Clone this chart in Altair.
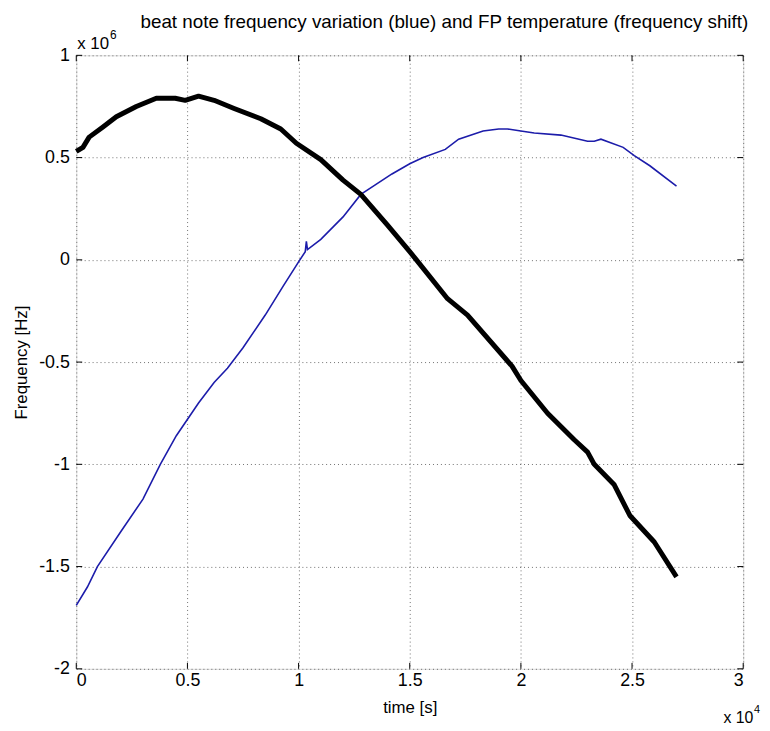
import altair as alt
import pandas as pd

# Blue: beat note frequency variation (time in 1e4 s, frequency in 1e6 Hz)
blue_t = [0.0, 0.05, 0.095, 0.2, 0.3, 0.378, 0.45, 0.55, 0.62, 0.68, 0.75, 0.85, 0.93, 1.0,
          1.03, 1.035, 1.04, 1.1, 1.2, 1.28, 1.35, 1.42, 1.5, 1.56, 1.66, 1.72, 1.83, 1.9,
          1.94, 2.0, 2.06, 2.18, 2.3, 2.33, 2.36, 2.46, 2.51, 2.58, 2.7]
blue_v = [-1.69, -1.60, -1.50, -1.33, -1.17, -1.00, -0.86, -0.70, -0.60, -0.53, -0.43, -0.27,
          -0.13, -0.01, 0.04, 0.09, 0.05, 0.10, 0.21, 0.32, 0.37, 0.42, 0.47, 0.50, 0.54,
          0.59, 0.63, 0.64, 0.64, 0.63, 0.62, 0.61, 0.58, 0.58, 0.59, 0.55, 0.51, 0.46, 0.36]

# Black: FP temperature (frequency shift)
black_t = [0.0, 0.03, 0.058, 0.12, 0.18, 0.27, 0.36, 0.445, 0.49, 0.55, 0.62, 0.71, 0.83,
           0.92, 0.99, 1.1, 1.2, 1.28, 1.4, 1.5, 1.53, 1.67, 1.76, 1.96, 2.0, 2.12, 2.24,
           2.30, 2.33, 2.42, 2.49, 2.6, 2.7]
black_v = [0.53, 0.55, 0.60, 0.65, 0.70, 0.75, 0.79, 0.79, 0.78, 0.80, 0.78, 0.74, 0.69,
           0.64, 0.57, 0.49, 0.39, 0.32, 0.17, 0.04, 0.0, -0.19, -0.27, -0.52, -0.59, -0.75,
           -0.88, -0.94, -1.0, -1.1, -1.25, -1.38, -1.55]

x_ticks = [0, 0.5, 1, 1.5, 2, 2.5, 3]
y_ticks = [1, 0.5, 0, -0.5, -1, -1.5, -2]

T_SCALE = 1e4
F_SCALE = 1e6

TITLE = "beat note frequency variation (blue) and FP temperature (frequency shift)"

W, H = 674, 620
FONT = "Liberation Sans"

blue_df = pd.DataFrame({"t": [v * T_SCALE for v in blue_t], "f": [v * F_SCALE for v in blue_v]})
black_df = pd.DataFrame({"t": [v * T_SCALE for v in black_t], "f": [v * F_SCALE for v in black_v]})
xt_df = pd.DataFrame({"t": [v * T_SCALE for v in x_ticks]})
yt_df = pd.DataFrame({"f": [v * F_SCALE for v in y_ticks]})

xscale = alt.Scale(domain=[0, 3 * T_SCALE], nice=False, zero=False)
yscale = alt.Scale(domain=[-2 * F_SCALE, 1 * F_SCALE], nice=False, zero=False)

xaxis = alt.Axis(values=[v * T_SCALE for v in x_ticks], labelExpr="datum.value / 10000",
                 title="time [s]", grid=True, gridDash=[1, 3], gridColor="#333333",
                 gridOpacity=0.7, ticks=False, domain=False, labelFont=FONT, labelFontSize=18,
                 labelColor="#000000", labelPadding=3, titleFont=FONT, titleFontSize=17,
                 titleFontWeight="normal", titleColor="#000000", titlePadding=10)
yaxis = alt.Axis(values=[v * F_SCALE for v in y_ticks], labelExpr="datum.value / 1000000",
                 title="Frequency [Hz]", grid=True, gridDash=[1, 3], gridColor="#333333",
                 gridOpacity=0.7, ticks=False, domain=False, labelFont=FONT, labelFontSize=18,
                 labelColor="#000000", labelPadding=7, titleFont=FONT, titleFontSize=17,
                 titleFontWeight="normal", titleColor="#000000", titlePadding=8)

base_blue = alt.Chart(blue_df).mark_line(color="#1c1caa", strokeWidth=1.6).encode(
    x=alt.X("t:Q", scale=xscale, axis=xaxis),
    y=alt.Y("f:Q", scale=yscale, axis=yaxis),
)
black_line = alt.Chart(black_df).mark_line(color="#000000", strokeWidth=5, strokeJoin="round").encode(
    x=alt.X("t:Q", scale=xscale),
    y=alt.Y("f:Q", scale=yscale),
)

tick_len = 6
xt_bottom = alt.Chart(xt_df).mark_rule(color="#000000").encode(
    x=alt.X("t:Q", scale=xscale), y=alt.value(H), y2=alt.value(H - tick_len))
xt_top = alt.Chart(xt_df).mark_rule(color="#000000").encode(
    x=alt.X("t:Q", scale=xscale), y=alt.value(0), y2=alt.value(tick_len))
yt_left = alt.Chart(yt_df).mark_rule(color="#000000").encode(
    y=alt.Y("f:Q", scale=yscale), x=alt.value(0), x2=alt.value(tick_len))
yt_right = alt.Chart(yt_df).mark_rule(color="#000000").encode(
    y=alt.Y("f:Q", scale=yscale), x=alt.value(W), x2=alt.value(W - tick_len))

one = pd.DataFrame({"a": [0]})


def label(text, x, y, size, align="left"):
    return alt.Chart(one).mark_text(font=FONT, fontSize=size, align=align,
                                    baseline="alphabetic", color="#000000").encode(
        x=alt.value(x), y=alt.value(y), text=alt.value(text))


title_mark = label(TITLE, 372, -28, 19, align="center")
y_exp = label("x 10", 1, -6, 17)
y_exp_sup = label("6", 34, -17, 12)
x_exp = label("x 10", W - 20, H + 55, 16)
x_exp_sup = label("4", W + 11, H + 45, 11)

chart = alt.layer(
    base_blue, black_line, xt_bottom, xt_top, yt_left, yt_right,
    title_mark, y_exp, y_exp_sup, x_exp, x_exp_sup
).properties(
    width=W, height=H,
    autosize="none",
    padding={"left": 69, "top": 44, "right": 19, "bottom": 59},
).configure_view(stroke="#000000", strokeWidth=1).configure(background="#ffffff")

chart.save("out.html", embed_options={"renderer": "svg", "actions": False})
